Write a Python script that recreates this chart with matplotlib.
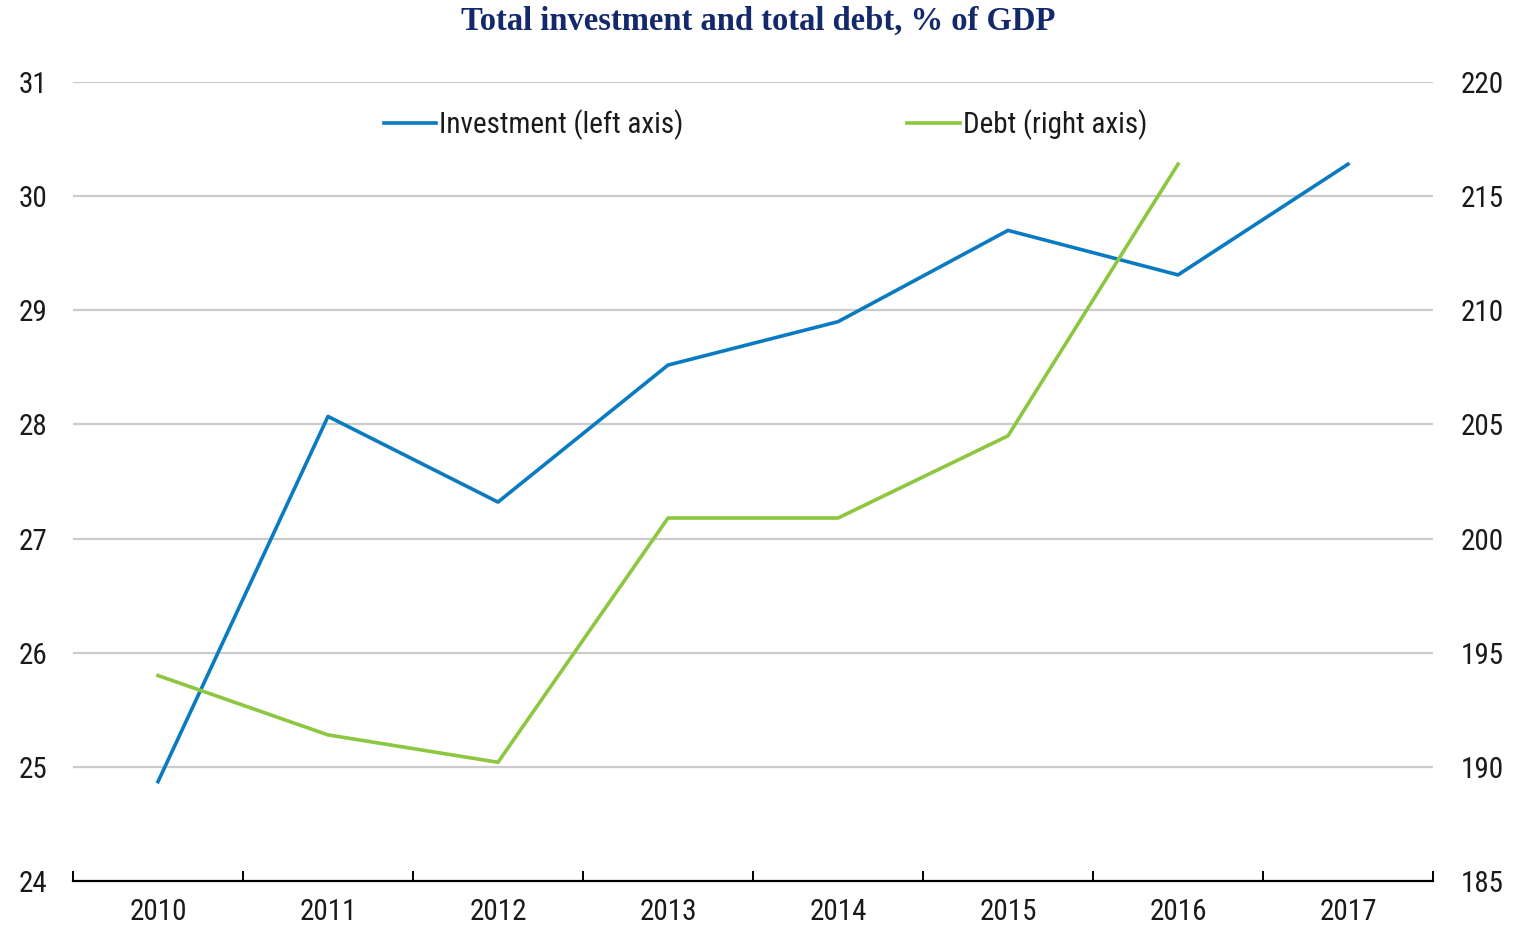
"""Total investment and total debt as a share of GDP, dual axis line chart."""

import matplotlib

matplotlib.use("Agg")
import matplotlib.pyplot as plt
from matplotlib.ticker import FixedLocator

YEARS = [2010, 2011, 2012, 2013, 2014, 2015, 2016, 2017]
INVESTMENT = [24.87, 28.07, 27.32, 28.52, 28.90, 29.70, 29.31, 30.28]
DEBT_YEARS = [2010, 2011, 2012, 2013, 2014, 2015, 2016]
DEBT = [194.0, 191.4, 190.2, 200.9, 200.9, 204.5, 216.4]

LEFT_TICKS = [24, 25, 26, 27, 28, 29, 30, 31]
RIGHT_TICKS = [185, 190, 195, 200, 205, 210, 215, 220]

BLUE = "#0a7bc1"
GREEN = "#8dc63f"
NAVY = "#14296b"
GRID = "#cbcbcb"
INK = "#1a1a1a"

LABEL_FONT = ["Roboto Condensed", "Archivo Narrow", "Liberation Sans", "DejaVu Sans"]
TITLE_FONT = ["Liberation Serif", "DejaVu Serif"]
FS = 21

fig = plt.figure(figsize=(15.17, 9.26), dpi=100)
ax = fig.add_axes([73 / 1517, 1 - 881 / 926, (1433 - 73) / 1517, (881 - 82) / 926])
ax2 = ax.twinx()

ax.set_xlim(YEARS[0] - 0.5, YEARS[-1] + 0.5)
ax.set_ylim(LEFT_TICKS[0], LEFT_TICKS[-1])
ax2.set_ylim(RIGHT_TICKS[0], RIGHT_TICKS[-1])

# horizontal gridlines (skip the bottom one, the axis line sits there)
for v in LEFT_TICKS[1:]:
    ax.axhline(v, color=GRID, lw=1.6, zorder=0)

inv_line, = ax.plot(YEARS, INVESTMENT, color=BLUE, lw=2.6,
                    label="Investment (left axis)", zorder=3)
debt_line, = ax2.plot(DEBT_YEARS, DEBT, color=GREEN, lw=2.6,
                      label="Debt (right axis)", zorder=3)

for a in (ax, ax2):
    for side in ("top", "left", "right"):
        a.spines[side].set_visible(False)
    a.spines["bottom"].set_visible(a is ax)
ax.spines["bottom"].set_linewidth(1.6)
ax.spines["bottom"].set_color("black")

ax.set_yticks(LEFT_TICKS)
ax.set_yticklabels([str(t) for t in LEFT_TICKS])
ax2.set_yticks(RIGHT_TICKS)
ax2.set_yticklabels([str(t) for t in RIGHT_TICKS])
ax.tick_params(axis="y", length=0, pad=18.5, labelsize=FS, labelcolor=INK)
ax2.tick_params(axis="y", length=0, pad=20, labelsize=FS, labelcolor=INK)
for lab in ax.get_yticklabels() + ax2.get_yticklabels():
    lab.set_family(LABEL_FONT)

ax.set_xticks(YEARS)
ax.set_xticklabels([str(y) for y in YEARS])
ax.xaxis.set_minor_locator(FixedLocator([y + 0.5 for y in [YEARS[0] - 1] + YEARS]))
ax.tick_params(axis="x", which="major", length=0, pad=12, labelsize=FS, labelcolor=INK)
ax.tick_params(axis="x", which="minor", direction="in", length=7.5, width=1.4, color="black")
for lab in ax.get_xticklabels():
    lab.set_family(LABEL_FONT)

leg = ax.legend(handles=[inv_line, debt_line], loc="center", bbox_to_anchor=(0.509, 0.947),
                ncol=2, frameon=False, handlelength=1.8, handletextpad=0.1,
                columnspacing=7.67, prop={"family": LABEL_FONT, "size": FS})
for t in leg.get_texts():
    t.set_color(INK)

fig.text(0.5, 1 - 21 / 926, "Total investment and total debt, % of GDP", ha="center", va="center",
         fontsize=23.5, fontweight="bold", color=NAVY, family=TITLE_FONT)

fig.savefig("out.png", dpi=100)
